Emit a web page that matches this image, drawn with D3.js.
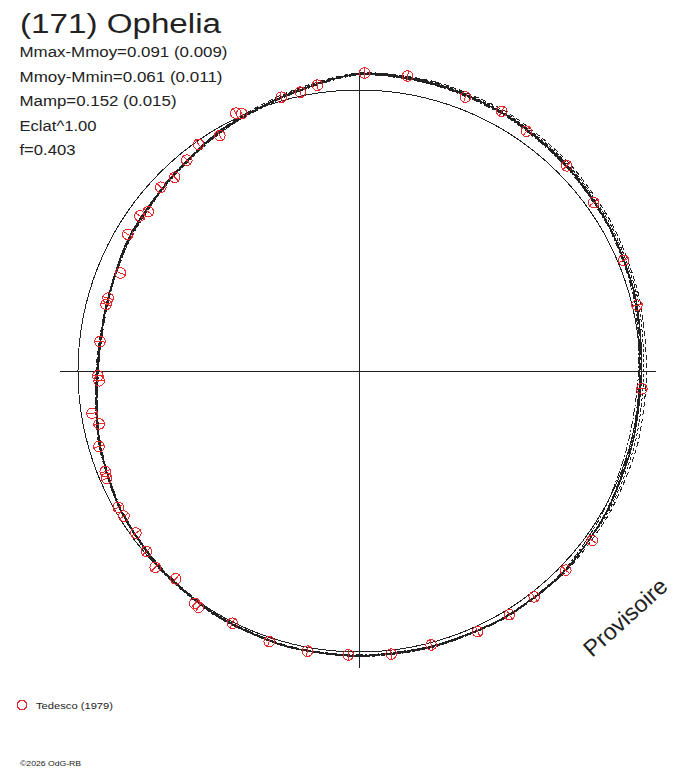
<!DOCTYPE html>
<html>
<head>
<meta charset="utf-8">
<script src="https://cdn.jsdelivr.net/npm/d3@7"></script>
<style>
  body { margin: 0; background: #fff; }
  svg { display: block; font-family: 'Liberation Sans', Arial, sans-serif; }
  path, line, circle { shape-rendering: crispEdges; }
</style>
</head>
<body>
<svg></svg>
<script>
const w = 688;
const h = 768;

// header lines
const title = '(171) Ophelia';
const infoLines = [
  'Mmax-Mmoy=0.091 (0.009)',
  'Mmoy-Mmin=0.061 (0.011)',
  'Mamp=0.152 (0.015)',
  'Eclat^1.00',
  'f=0.403'
];
const infoWidths = [208, 203, 157, 77, 56];

// fitted curves, phase in degrees, magnitude offsets
const fitPhase = [0, 15, 30, 45, 60, 75, 90, 105, 120, 135, 150, 165, 180, 195, 210, 225, 240, 255, 270, 285, 300, 315, 330, 345];
const fitMain = [0.066, 0.066, 0.058, 0.045, 0.033, 0.021, 0.006, 0.008, 0.016, 0.025, 0.021, 0.016, 0.016, 0.016, 0.008, -0.004, -0.021, -0.049, -0.080, -0.082, -0.062, -0.049, -0.016, 0.016];
const fitA = [0.070, 0.074, 0.070, 0.060, 0.048, 0.036, 0.027, 0.029, 0.029, 0.029, 0.023, 0.019, 0.019, 0.016, 0.010, -0.002, -0.021, -0.047, -0.074, -0.080, -0.066, -0.047, -0.012, 0.025];
const fitB = [0.062, 0.060, 0.053, 0.041, 0.029, 0.014, -0.006, -0.010, 0.004, 0.021, 0.019, 0.014, 0.012, 0.014, 0.006, -0.006, -0.025, -0.053, -0.082, -0.084, -0.068, -0.051, -0.020, 0.012];
const fitC = [0.068, 0.070, 0.064, 0.053, 0.041, 0.029, 0.016, 0.018, 0.022, 0.023, 0.023, 0.021, 0.019, 0.016, 0.012, 0.000, -0.019, -0.045, -0.076, -0.082, -0.070, -0.053, -0.022, 0.021];
const fitD = [0.064, 0.062, 0.060, 0.049, 0.035, 0.018, 0.000, 0.002, 0.014, 0.027, 0.025, 0.018, 0.014, 0.012, 0.004, -0.008, -0.023, -0.051, -0.084, -0.086, -0.064, -0.045, -0.014, 0.018];

// observations (Tedesco 1979): rotational phase and magnitude offset
const obsPhase = [0.003, 0.026, 0.059, 0.080, 0.097, 0.126, 0.151, 0.187, 0.213, 0.260,
  0.350, 0.372, 0.395, 0.412, 0.432, 0.459, 0.482, 0.506, 0.529, 0.551,
  0.574, 0.595, 0.598, 0.615, 0.628, 0.638, 0.650, 0.662, 0.668, 0.686,
  0.690, 0.705, 0.718, 0.725, 0.744, 0.747, 0.768, 0.791, 0.795, 0.812,
  0.835, 0.848, 0.853, 0.869, 0.879, 0.891, 0.902, 0.915, 0.929, 0.932,
  0.956, 0.967, 0.977];
const obsMag = [0.070, 0.074, 0.053, 0.063, 0.047, 0.045, 0.032, 0.024, 0.019, 0.010,
  0.030, 0.025, 0.020, 0.022, 0.022, 0.009, 0.016, 0.013, 0.016, 0.017,
  0.005, 0.019, 0.015, -0.016, 0.008, -0.009, -0.022, -0.020, -0.018, -0.028,
  -0.033, -0.042, -0.065, -0.044, -0.086, -0.082, -0.084, -0.080, -0.081, -0.095,
  -0.051, -0.052, -0.069, -0.044, -0.056, -0.036, -0.014, -0.031, 0.020, 0.007,
  0.015, 0.016, 0.032];
const obsErr = 0.024;

const legendLabel = 'Tedesco (1979)';
const copyright = '\u00A92026 OdG-RB';
const stamp = 'Provisoire';

const cx = 359;
const cy = 371;
const axisHalf = 297;
const red = '#e4282c';
const ink = '#222';

const svg = d3.select('svg').attr('width', w).attr('height', h);

const rScale = d3.scaleLinear().domain([-0.1, 0.1]).range([281 - 24.3, 281 + 24.3]);
const aScale = d3.scaleLinear().domain([0, 360]).range([0, 2 * Math.PI]);
const pScale = d3.scaleLinear().domain([0, 1]).range([0, 2 * Math.PI]);

const plot = svg.append('g').attr('transform', `translate(${cx},${cy})`);

// axes
plot.append('line').attr('x1', -axisHalf - 2).attr('x2', axisHalf).attr('y1', 0.5).attr('y2', 0.5)
  .attr('stroke', ink).attr('stroke-width', 1);
plot.append('line').attr('y1', -axisHalf - 1).attr('y2', axisHalf).attr('x1', 0.5).attr('x2', 0.5)
  .attr('stroke', ink).attr('stroke-width', 1);

// reference circle
plot.append('circle').attr('r', rScale(0)).attr('fill', 'none')
  .attr('stroke', ink).attr('stroke-width', 1);

const radial = d3.lineRadial()
  .angle(d => aScale(d[0]))
  .radius(d => rScale(d[1]))
  .curve(d3.curveCardinalClosed.tension(0.2));

const fits = [
  { vals: fitA, dash: '5,3', width: 1 },
  { vals: fitB, dash: '7,2,2,2', width: 1 },
  { vals: fitC, dash: '3,2', width: 1 },
  { vals: fitD, dash: '9,3', width: 1 },
  { vals: fitMain, dash: null, width: 1.6 }
];

fits.forEach(f => {
  plot.append('path')
    .datum(fitPhase.map((p, i) => [p, f.vals[i]]))
    .attr('d', radial)
    .attr('fill', 'none')
    .attr('stroke', ink)
    .attr('stroke-width', f.width)
    .attr('stroke-dasharray', f.dash);
});

// observations
const obs = obsPhase.map((p, i) => ({ p, m: obsMag[i] }));
const pt = (p, m) => {
  const a = pScale(p);
  const r = rScale(m);
  return [r * Math.sin(a), -r * Math.cos(a)];
};

const marks = plot.selectAll('g.obs').data(obs).enter().append('g').attr('class', 'obs');
marks.append('line')
  .attr('x1', d => pt(d.p, d.m - obsErr)[0])
  .attr('y1', d => pt(d.p, d.m - obsErr)[1])
  .attr('x2', d => pt(d.p, d.m + obsErr)[0])
  .attr('y2', d => pt(d.p, d.m + obsErr)[1])
  .attr('stroke', red).attr('stroke-width', 1);
marks.append('circle')
  .attr('cx', d => pt(d.p, d.m)[0])
  .attr('cy', d => pt(d.p, d.m)[1])
  .attr('r', 5.3)
  .attr('fill', 'none')
  .attr('stroke', red).attr('stroke-width', 1);

// title and info
svg.append('text').text(title)
  .attr('x', 20).attr('y', 33)
  .attr('textLength', 201).attr('lengthAdjust', 'spacingAndGlyphs')
  .style('font-size', '27px').attr('fill', ink);

svg.selectAll('text.info').data(infoLines).enter().append('text')
  .attr('class', 'info')
  .text(d => d)
  .attr('x', 19.5)
  .attr('y', (d, i) => 57 + i * 24.5)
  .attr('textLength', (d, i) => infoWidths[i])
  .attr('lengthAdjust', 'spacingAndGlyphs')
  .style('font-size', '15.5px').attr('fill', ink);

// legend
svg.append('circle').attr('cx', 22).attr('cy', 705).attr('r', 4.8)
  .attr('fill', 'none').attr('stroke', red).attr('stroke-width', 1);
svg.append('text').text(legendLabel)
  .attr('x', 36).attr('y', 709)
  .attr('textLength', 77).attr('lengthAdjust', 'spacingAndGlyphs')
  .style('font-size', '9.5px').attr('fill', ink);

svg.append('text').text(copyright)
  .attr('x', 20).attr('y', 766)
  .attr('textLength', 61).attr('lengthAdjust', 'spacingAndGlyphs')
  .style('font-size', '8px').attr('fill', ink);

// watermark
svg.append('text').text(stamp)
  .attr('transform', 'translate(592,658) rotate(-42)')
  .attr('textLength', 104).attr('lengthAdjust', 'spacingAndGlyphs')
  .style('font-size', '23px').attr('fill', ink);
</script>
</body>
</html>
